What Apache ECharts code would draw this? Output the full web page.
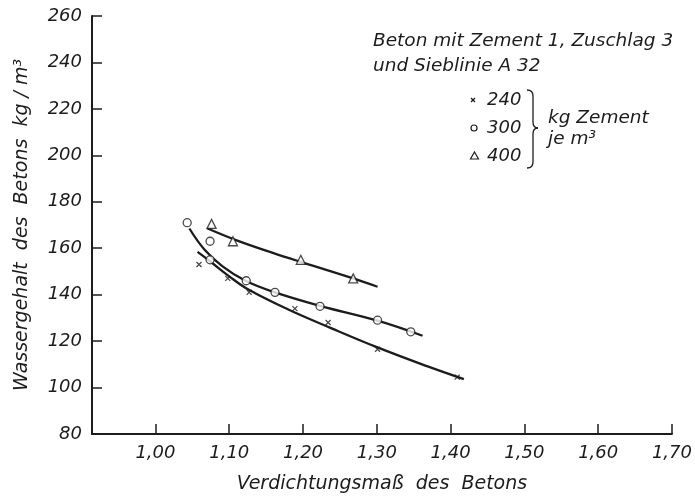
<!DOCTYPE html>
<html>
<head>
<meta charset="utf-8">
<script src="https://cdn.jsdelivr.net/npm/echarts@6/dist/echarts.min.js"></script>
<style>
  html, body { margin: 0; padding: 0; background: #ffffff; }
  #chart { width: 695px; height: 499px; }
</style>
</head>
<body>
<div id="chart"></div>
<script>
// Measured points: Verdichtungsmaß (x) vs. Wassergehalt kg/m³ (y)
const pts240 = [[1.059, 153], [1.098, 147], [1.127, 141], [1.189, 134], [1.234, 128], [1.301, 116.5], [1.409, 104.5]];
const pts300 = [[1.043, 171], [1.074, 163], [1.074, 155], [1.123, 146], [1.162, 141], [1.223, 135], [1.301, 129], [1.346, 124]];
const pts400 = [[1.076, 170.5], [1.105, 163], [1.197, 155], [1.268, 147]];

// Fitted curves through the measurements
const curve240 = [[1.057, 158.4], [1.073, 154.6], [1.0995, 148.0], [1.126, 142.2], [1.180, 133.6], [1.238, 125.6], [1.300, 117.4], [1.368, 109.2], [1.418, 103.6]];
const curve300 = [[1.046, 168.5], [1.066, 159.6], [1.0905, 152.3], [1.122, 146.0], [1.162, 141.0], [1.223, 135.2], [1.301, 128.8], [1.362, 122.3]];
const curve400 = [[1.070, 168.6], [1.110, 163.4], [1.160, 157.9], [1.200, 153.8], [1.268, 147.0], [1.301, 143.4]];

const xTicks = [1.0, 1.1, 1.2, 1.3, 1.4, 1.5, 1.6, 1.7];

const legendLabels = ['240', '300', '400'];
const noteLines = ['Beton mit Zement 1, Zuschlag 3', 'und Sieblinie A 32'];
const unitLines = ['kg Zement', 'je m³'];

const INK = '#1c1c1c';
const FONT = 'DejaVu Sans';

const chart = echarts.init(document.getElementById('chart'), null, { renderer: 'canvas' });

const crossSymbol = 'path://M0,0L10,10M10,0L0,10';

function curveSeries(data) {
  return {
    type: 'line', data: data, smooth: 0.4, showSymbol: false, silent: true,
    lineStyle: { color: INK, width: 2.3 }, z: 2
  };
}

const stroke = { stroke: INK, lineWidth: 1.3, fill: null };
function seg(x1, y1, x2, y2) { return { type: 'line', shape: { x1, y1, x2, y2 }, style: stroke }; }
function curl(x1, y1, cx, cy, x2, y2) {
  return { type: 'bezierCurve', shape: { x1, y1, x2, y2, cpx1: cx, cpy1: cy }, style: stroke };
}
function label(text, x, y, size) {
  return { type: 'text', x: x, y: y, style: { text: text, font: 'italic ' + size + 'px "' + FONT + '"', fill: INK } };
}

const option = {
  backgroundColor: '#ffffff',
  animation: false,
  grid: { left: 92, right: 18, top: 16, bottom: 62, containLabel: false },
  xAxis: {
    type: 'value', min: 0.914, max: 1.70,
    name: 'Verdichtungsmaß  des  Betons', nameLocation: 'middle', nameGap: 41,
    nameTextStyle: { fontFamily: FONT, fontStyle: 'italic', fontSize: 19, color: INK },
    axisLine: { lineStyle: { color: INK, width: 2 } },
    axisTick: { show: true, inside: true, length: 10, customValues: xTicks, lineStyle: { color: INK, width: 1.5 } },
    axisLabel: {
      customValues: xTicks, margin: 10, fontFamily: FONT, fontStyle: 'italic', fontSize: 18, color: INK,
      formatter: v => v.toFixed(2).replace('.', ',')
    },
    splitLine: { show: false }
  },
  yAxis: {
    type: 'value', min: 80, max: 260, interval: 20,
    name: 'Wassergehalt  des  Betons  kg / m³', nameLocation: 'middle', nameGap: 60,
    nameTextStyle: { fontFamily: FONT, fontStyle: 'italic', fontSize: 19, color: INK },
    axisLine: { show: true, lineStyle: { color: INK, width: 2 } },
    axisTick: { show: true, inside: true, length: 10, lineStyle: { color: INK, width: 1.5 } },
    axisLabel: { margin: 10, fontFamily: FONT, fontStyle: 'italic', fontSize: 18, color: INK },
    splitLine: { show: false }
  },
  series: [
    curveSeries(curve240),
    curveSeries(curve300),
    curveSeries(curve400),
    {
      type: 'scatter', data: pts240, symbol: crossSymbol, symbolSize: 5,
      itemStyle: { color: 'none', borderColor: INK, borderWidth: 1.3 }, z: 3
    },
    {
      type: 'scatter', data: pts300, symbol: 'circle', symbolSize: 8,
      itemStyle: { color: '#ffffff', borderColor: INK, borderWidth: 1.3 }, z: 3
    },
    {
      type: 'scatter', data: pts400, symbol: 'triangle', symbolSize: 9,
      itemStyle: { color: '#ffffff', borderColor: INK, borderWidth: 1.3 }, z: 3
    }
  ],
  graphic: [
    label(noteLines[0], 373, 32, 18.5),
    label(noteLines[1], 373, 57, 18.5),
    // key symbols
    seg(471, 98, 475, 102),
    seg(475, 98, 471, 102),
    { type: 'circle', shape: { cx: 474, cy: 128, r: 3 }, style: { stroke: INK, lineWidth: 1.2, fill: '#fff' } },
    { type: 'polygon', shape: { points: [[474.5, 152], [478.5, 159], [470.5, 159]] }, style: { stroke: INK, lineWidth: 1.2, fill: '#fff' } },
    label(legendLabels[0], 487, 91, 18),
    label(legendLabels[1], 487, 119, 18),
    label(legendLabels[2], 487, 147, 18),
    // brace
    curl(527, 90, 533, 90, 533, 96),
    seg(533, 96, 533, 122),
    curl(533, 122, 533, 128, 538, 128),
    curl(538, 128, 533, 128, 533, 134),
    seg(533, 134, 533, 162),
    curl(533, 162, 533, 168, 527, 168),
    label(unitLines[0], 548, 109, 18.5),
    label(unitLines[1], 548, 130, 18.5)
  ]
};

chart.setOption(option);
</script>
</body>
</html>
